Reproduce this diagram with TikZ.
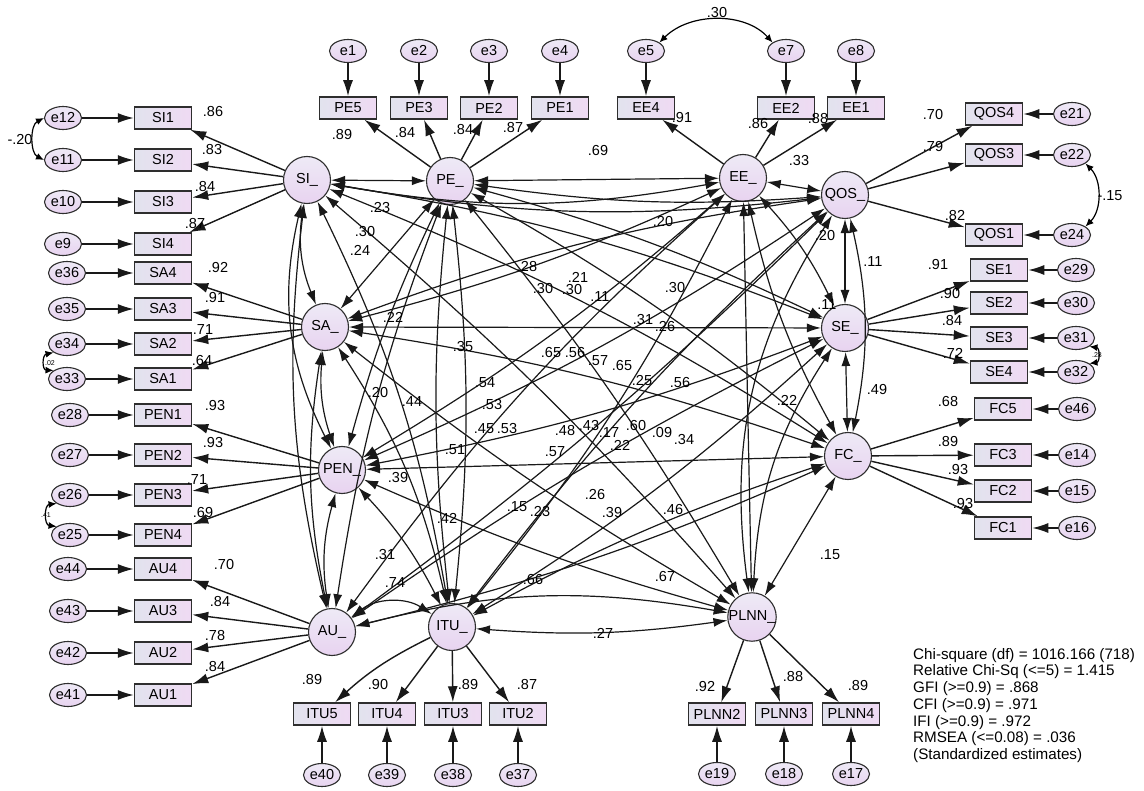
\documentclass[tikz,border=0pt]{standalone}
\usepackage{fontspec}
\setmainfont{Liberation Sans}
\usetikzlibrary{arrows.meta,shapes.geometric}
\definecolor{bord}{HTML}{2E2E2E}
\definecolor{boxL}{HTML}{E2E3EE}
\definecolor{boxR}{HTML}{EFDAF3}
\definecolor{latT}{HTML}{EEEAF6}
\definecolor{latB}{HTML}{E8D3F0}
\newcommand\lf{\fontsize{14.5}{16}\selectfont}
\newcommand\tinyf{\fontsize{7}{8}\selectfont}
\begin{document}
\begin{tikzpicture}[x=1pt,y=-1pt,
  lat/.style={circle, draw=bord, line width=1.1pt, minimum size=47, inner sep=0, top color=latT, bottom color=latB, font=\lf},
  ind/.style={rectangle, draw=bord, line width=1.5pt, minimum width=57, minimum height=22, inner sep=0, left color=boxL, right color=boxR, font=\lf},
  err/.style={ellipse, draw=bord, line width=1.1pt, minimum width=37, minimum height=23, inner sep=0, top color=latT, bottom color=latB, font=\lf},
  arr/.style={-{Latex[length=16pt,width=10pt]}, line width=1.4pt, draw=black!90},
  cov/.style={{Latex[length=14pt,width=9pt]}-{Latex[length=14pt,width=9pt]}, line width=1.2pt, draw=black!90},
  scov/.style={{Latex[length=8pt,width=7pt]}-{Latex[length=8pt,width=7pt]}, line width=1.2pt},
  lab/.style={font=\lf, inner sep=0}]
\useasboundingbox (0,0) rectangle (1144,791);
\fill[white] (0,0) rectangle (1144,791);
% latent variables
\node[lat] (SI) at (307,180) {SI\_};
\node[lat] (PE) at (450,181) {PE\_};
\node[lat] (EE) at (743,178) {EE\_};
\node[lat] (QOS) at (845,195) {QOS\_};
\node[lat] (SA) at (325,327) {SA\_};
\node[lat] (SE) at (845,328) {SE\_};
\node[lat] (PEN) at (342,470) {PEN\_};
\node[lat] (FC) at (848,456) {FC\_};
\node[lat] (AU) at (332,632) {AU\_};
\node[lat] (ITU) at (452,627) {ITU\_};
\node[lat] (PLNN) at (752,617) {PLNN\_};
% left indicators
\foreach \n/\y/\e/\ex in {SI1/118/e12/63, SI2/160/e11/63, SI3/202/e10/63, SI4/244/e9/63,
  SA4/273/e36/67, SA3/309/e35/67, SA2/344/e34/67, SA1/379/e33/67,
  PEN1/415/e28/70, PEN2/455/e27/70, PEN3/495/e26/70, PEN4/535/e25/70,
  AU4/569/e44/68, AU3/611/e43/68, AU2/653/e42/68, AU1/695/e41/68}{
  \node[ind] (\n) at (163,\y) {\n};
  \node[err] (\e) at (\ex,\y) {\e};
  \draw[arr] (\e) -- (\n);
}
\foreach \n in {SI1,SI2,SI3,SI4}{\draw[arr] (SI) -- (\n);}
\foreach \n in {SA1,SA2,SA3,SA4}{\draw[arr] (SA) -- (\n);}
\foreach \n in {PEN1,PEN2,PEN3,PEN4}{\draw[arr] (PEN) -- (\n);}
\foreach \n in {AU1,AU2,AU3,AU4}{\draw[arr] (AU) -- (\n);}
% top indicators
\foreach \n/\x/\e in {PE5/348/e1, PE3/419/e2, PE2/489/e3, PE1/560/e4, EE4/646/e5, EE2/786/e7, EE1/856/e8}{
  \node[ind] (\n) at (\x,108) {\n};
  \node[err] (\e) at (\x,51) {\e};
  \draw[arr] (\e) -- (\n);
}
\foreach \n in {PE5,PE3,PE2,PE1}{\draw[arr] (PE) -- (\n);}
\foreach \n in {EE4,EE2,EE1}{\draw[arr] (EE) -- (\n);}
% right indicators
\foreach \n/\y/\e in {QOS4/114/e21, QOS3/155/e22, QOS1/235/e24}{
  \node[ind] (\n) at (994,\y) {\n};
  \node[err] (\e) at (1072,\y) {\e};
  \draw[arr] (\e) -- (\n);
  \draw[arr] (QOS) -- (\n);
}
\foreach \n/\y/\e in {SE1/270/e29, SE2/303/e30, SE3/338/e31, SE4/372/e32}{
  \node[ind] (\n) at (999,\y) {\n};
  \node[err] (\e) at (1076,\y) {\e};
  \draw[arr] (\e) -- (\n);
  \draw[arr] (SE) -- (\n);
}
\foreach \n/\y/\e in {FC5/409/e46, FC3/455/e14, FC2/491/e15, FC1/528/e16}{
  \node[ind] (\n) at (1003,\y) {\n};
  \node[err] (\e) at (1077,\y) {\e};
  \draw[arr] (\e) -- (\n);
  \draw[arr] (FC) -- (\n);
}
% bottom indicators
\foreach \n/\x/\e in {ITU5/322/e40, ITU4/387/e39, ITU3/453/e38, ITU2/518/e37}{
  \node[ind] (\n) at (\x,714) {\n};
  \node[err] (\e) at (\x,775) {\e};
  \draw[arr] (\e) -- (\n);
}
\draw[arr] (ITU) to[bend right=8] (ITU5);
\foreach \n in {ITU4,ITU3,ITU2}{\draw[arr] (ITU) -- (\n);}
\foreach \n/\x/\e in {PLNN2/717/e19, PLNN3/784/e18, PLNN4/851/e17}{
  \node[ind] (\n) at (\x,714) {\n};
  \node[err] (\e) at (\x,774) {\e};
  \draw[arr] (\e) -- (\n);
  \draw[arr] (PLNN) -- (\n);
}
% error covariances
\draw[scov] (e12.west) .. controls (30,125) and (30,153) .. (e11.west);
\draw[scov] (e5.north east) .. controls (690,12) and (745,12) .. (e7.north west);
\draw[scov] (e22.south east) .. controls (1102,180) and (1102,210) .. (e24.north east);
\draw[scov] (e34.south west) .. controls (42,355) and (42,370) .. (e33.north west);
\draw[scov] (e26.south west) .. controls (44,505) and (44,525) .. (e25.north west);
\draw[scov] (e31.south east) .. controls (1100,348) and (1100,362) .. (e32.north east);
% factor covariances
\draw[cov] (SI) -- (PE);
\draw[cov] (PE) -- (EE);
\draw[cov] (EE) -- (QOS);
\draw[cov] (QOS) -- (SE);
\draw[cov] (SE) -- (FC);
\draw[cov] (FC) -- (PLNN);
\draw[cov] (ITU) to[bend right=6] (PLNN);
\draw[cov] (AU) to[bend left=35] (ITU);
\draw[cov] (PEN) to[bend right=12] (AU);
\draw[cov] (SA) to[bend right=12] (PEN);
\draw[cov] (SI) to[bend right=15] (SA);
\draw[cov] (SI) to[bend right=10] (EE);
\draw[cov] (SI) to[bend right=8] (QOS);
\draw[cov] (SI) to[bend left=6] (SE);
\draw[cov] (SI) to[bend right=20] (PEN);
\draw[cov] (SI) to[bend left=5] (FC);
\draw[cov] (SI) to[bend right=10] (AU);
\draw[cov] (SI) to[bend left=8] (ITU);
\draw[cov] (SI) to[bend left=4] (PLNN);
\draw[cov] (PE) to[bend right=6] (QOS);
\draw[cov] (PE) -- (SA);
\draw[cov] (PE) to[bend left=5] (SE);
\draw[cov] (PE) to[bend right=5] (PEN);
\draw[cov] (PE) to[bend left=5] (FC);
\draw[cov] (PE) to[bend right=6] (AU);
\draw[cov] (PE) to[bend right=6] (ITU);
\draw[cov] (PE) to[bend left=6] (ITU);
\draw[cov] (PE) to[bend left=4] (PLNN);
\draw[cov] (EE) to[bend left=5] (SA);
\draw[cov] (EE) to[bend left=8] (SE);
\draw[cov] (EE) to[bend left=5] (PEN);
\draw[cov] (EE) to[bend right=8] (FC);
\draw[cov] (EE) to[bend right=6] (AU);
\draw[cov] (EE) to[bend left=6] (ITU);
\draw[cov] (EE) -- (PLNN);
\draw[cov] (QOS) to[bend right=6] (SA);
\draw[cov] (QOS) to[bend left=12] (FC);
\draw[cov] (QOS) to[bend left=5] (PEN);
\draw[cov] (QOS) to[bend left=4] (AU);
\draw[cov] (QOS) to[bend right=5] (ITU);
\draw[cov] (QOS) to[bend right=20] (PLNN);
\draw[cov] (SA) -- (SE);
\draw[cov] (SA) to[bend left=5] (FC);
\draw[cov] (SA) to[bend right=10] (AU);
\draw[cov] (SA) to[bend left=10] (ITU);
\draw[cov] (SA) to[bend right=4] (PLNN);
\draw[cov] (SE) to[bend left=5] (PEN);
\draw[cov] (SE) to[bend right=4] (AU);
\draw[cov] (SE) to[bend left=5] (ITU);
\draw[cov] (SE) to[bend right=15] (PLNN);
\draw[cov] (PEN) -- (FC);
\draw[cov] (PEN) to[bend left=8] (ITU);
\draw[cov] (PEN) to[bend right=4] (PLNN);
\draw[cov] (FC) to[bend left=5] (AU);
\draw[cov] (FC) to[bend right=5] (ITU);
\draw[cov] (AU) to[bend left=12] (PLNN);
% labels: loadings
\foreach \t/\x/\y in {.86/213/112, .83/212/150, .84/205/187, .87/195/224,
  .92/218/268, .91/215/298, .71/203/330, .64/202/361,
  .93/215/406, .93/213/443, .71/197/480, .69/203/513,
  .70/224/565, .84/220/602, .78/215/636, .84/215/667,
  .89/342/135, .84/405/133, .84/463/130, .87/513/128,
  .91/682/118, .86/758/124, .88/818/119,
  .70/933/115, .79/933/147, .82/955/216,
  .91/938/265, .90/950/294, .84/952/321, .72/953/353,
  .68/948/402, .89/948/442, .93/958/470, .93/963/504,
  .89/312/680, .90/378/685, .89/468/685, .87/527/685,
  .92/705/687, .88/793/677, .89/858/686,
  .30/717/13, -.15/1110/196, -.20/20/140}{
  \node[lab] at (\x,\y) {\t};
}
% labels: factor covariances
\foreach \t/\x/\y in {.69/598/151, .33/799/161, .23/380/208, .30/365/232, .24/360/250,
  .20/663/222, .20/825/236, .28/527/267, .21/578/277, .30/543/289, .30/572/290,
  .11/600/297, .11/873/262, .30/675/288, .11/827/305, .31/643/320, .26/665/327,
  .22/393/317, .35/463/347, .65/551/353, .56/575/353, .57/598/361, .65/622/366,
  .25/642/381, .56/680/383, .22/787/400, .49/877/390, .54/485/383, .20/378/393,
  .44/412/402, .53/492/405, .45/484/429, .53/507/429, .48/565/431, .43/589/426,
  .17/609/433, .22/620/445, .60/636/426, .09/662/433, .34/684/440, .51/455/450,
  .57/555/452, .39/398/478, .42/447/518, .15/517/507, .23/540/512, .26/595/495,
  .39/612/513, .46/673/510, .31/385/555, .74/395/583, .66/533/580, .67/665/577,
  .15/830/555, .27/603/633}{
  \node[lab] at (\x,\y) {\t};
}
% tiny labels
\node[lab,font=\tinyf] at (50,363) {.02};
\node[lab,font=\tinyf] at (46,515) {.41};
\node[lab,font=\tinyf] at (1097,355) {.28};
% fit indices
\node[anchor=north west, align=left, inner sep=0, font=\fontsize{15.2}{16.7}\selectfont] (fit) at (913,648)
 {Chi-square (df) = 1016.166 (718)\\
  Relative Chi-Sq (<=5) = 1.415\\
  GFI (>=0.9) = .868\\
  CFI (>=0.9) = .971\\
  IFI (>=0.9) = .972\\
  RMSEA (<=0.08) = .036\\
  (Standardized estimates)};
\end{tikzpicture}
\end{document}
